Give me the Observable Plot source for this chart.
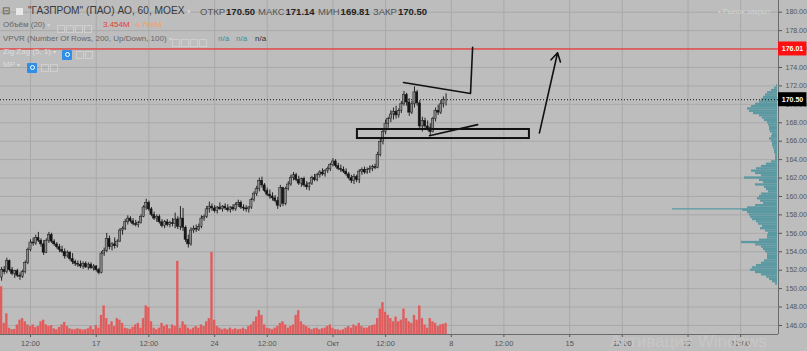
<!DOCTYPE html>
<html><head><meta charset="utf-8">
<script src="https://cdn.jsdelivr.net/npm/d3@7"></script>
<script src="https://cdn.jsdelivr.net/npm/@observablehq/plot@0.6"></script>
<style>
html,body{margin:0;padding:0;background:#bdbdbd;}
#wrap{position:relative;width:807px;height:351px;overflow:hidden;background:#bdbdbd;font-family:"Liberation Sans",Arial,sans-serif;}
#wrap svg{position:absolute;left:0;top:0;}
.t{position:absolute;white-space:nowrap;line-height:1;}
.ib{display:inline-block;width:8px;height:8px;border:1px solid #cfcfcf;margin-right:1px;vertical-align:middle;box-sizing:border-box;}
.eye{display:inline-block;width:10px;height:10px;background:#2e8ee8;border-radius:1px;vertical-align:middle;position:relative;}
.eye:after{content:"";position:absolute;left:2.5px;top:2.5px;width:3px;height:3px;border:1px solid #fff;border-radius:50%;}
.ohlc{font-size:9.5px;color:#555;top:7px;}
.ohlc b{color:#222;margin-left:1px;}
</style></head>
<body>
<div id="wrap"></div>
<script>
// ---------- data ----------
const candleOpen = [
151.2,152.0,151.8,153.0,152.0,151.6,151.9,151.4,151.3,151.8,
152.8,154.2,155.0,154.9,155.5,155.2,154.8,153.9,155.2,155.8,
155.1,154.8,154.5,154.2,154.0,153.5,153.9,153.2,152.9,152.7,
152.6,152.4,152.7,152.3,152.6,152.2,152.4,152.0,151.7,153.8,
154.1,155.4,154.5,154.8,154.6,155.1,156.3,156.5,157.2,157.6,
157.3,157.0,156.9,157.1,157.8,158.8,159.3,158.6,158.0,157.6,
157.8,157.2,156.8,157.2,156.9,157.1,157.0,157.5,156.7,157.6,
156.6,155.3,154.8,156.3,156.5,156.4,156.7,157.6,157.8,158.6,
158.9,158.7,158.4,158.8,158.6,158.9,158.7,158.5,158.8,158.6,
159.1,159.3,158.8,158.7,158.6,158.8,159.6,160.3,160.8,161.7,
161.2,160.6,160.2,160.0,159.8,159.5,159.0,160.9,159.2,160.8,
161.3,162.0,162.3,161.8,161.4,161.9,161.2,161.0,161.4,162.0,
161.8,162.3,162.6,162.4,162.8,163.0,163.4,163.8,163.3,163.0,
162.9,162.7,162.4,162.0,161.7,162.1,161.8,162.7,162.9,162.6,
162.9,163.0,163.2,163.1,164.5,165.9,167.0,167.9,168.4,168.9,
169.2,168.8,169.3,170.0,171.0,170.2,169.1,170.0,171.3,170.1,
167.6,168.2,167.6,167.4,167.0,168.4,169.3,169.1,170.0,170.5];
const candleHigh = [
152.3,152.4,153.3,153.1,152.3,152.0,152.1,151.7,152.0,153.0,
154.4,155.3,155.5,155.8,156.1,155.4,155.2,155.4,156.1,156.0,
155.3,155.0,154.8,154.6,154.3,154.1,154.0,153.8,153.1,153.0,
153.0,152.9,152.9,152.8,152.8,152.6,152.5,152.2,154.0,154.4,
156.0,155.7,155.0,155.5,155.3,156.5,156.7,157.5,157.9,157.8,
157.6,157.4,157.3,158.0,159.0,159.7,159.5,158.8,158.3,158.0,
158.0,157.5,157.4,157.5,157.3,157.6,158.2,157.8,158.9,158.7,
156.8,155.8,156.6,156.8,156.9,157.0,157.9,158.0,158.9,159.4,
159.2,159.0,158.9,159.3,159.0,159.2,159.1,158.9,159.1,159.3,
159.6,159.5,159.1,159.0,158.9,159.8,160.5,161.1,162.0,162.1,
161.4,160.9,160.7,160.4,160.1,159.9,161.2,161.0,161.0,161.6,
162.3,162.6,162.5,162.2,162.0,162.1,161.6,161.5,162.2,162.4,
162.5,162.8,163.0,162.9,163.2,163.6,164.1,164.0,163.6,163.4,
163.2,163.0,162.6,162.3,162.4,162.3,162.9,163.1,163.2,163.1,
163.3,163.4,163.5,164.8,166.2,167.3,168.3,168.6,169.3,169.6,
169.8,169.5,170.3,171.4,171.2,170.6,170.3,171.9,171.5,170.4,
168.6,168.5,168.2,167.9,168.6,169.6,169.9,170.4,170.8,171.14];
const candleLow = [
150.8,151.5,151.6,151.8,151.4,151.1,151.2,150.9,151.1,151.6,
152.6,154.0,154.6,154.7,155.0,154.5,153.6,153.8,154.9,154.9,
154.6,154.3,153.9,153.8,153.2,153.3,153.0,152.6,152.4,152.3,
152.2,152.1,152.2,152.0,152.1,151.9,151.8,151.5,151.6,153.5,
153.9,154.2,154.1,154.3,154.4,155.0,155.8,156.3,156.9,157.1,
156.8,156.7,156.6,157.0,157.7,158.5,158.4,157.8,157.4,157.2,
157.0,156.6,156.5,156.7,156.6,156.7,156.5,156.4,156.3,156.2,
155.0,154.4,154.6,156.0,156.1,156.2,156.5,157.3,157.6,158.2,
158.4,158.2,158.1,158.5,158.3,158.5,158.3,158.2,158.4,158.4,
158.8,158.6,158.4,158.3,158.2,158.6,159.4,160.0,160.5,160.9,
160.4,160.0,159.7,159.5,159.3,158.6,158.8,158.9,159.0,160.6,
161.1,161.7,161.6,161.2,161.0,161.0,160.7,160.6,161.2,161.6,
161.6,162.0,162.2,162.1,162.5,162.7,163.2,163.1,162.8,162.6,
162.5,162.2,161.8,161.4,161.3,161.5,161.4,162.3,162.4,162.4,
162.5,162.7,162.9,163.0,164.3,165.6,166.7,167.4,168.0,168.3,
168.4,168.5,169.0,169.8,169.8,168.7,168.9,169.6,169.8,167.3,
167.0,167.4,167.1,166.6,166.9,168.1,168.8,168.9,169.6,169.81];
const candleClose = [
152.0,151.8,153.0,152.0,151.6,151.9,151.4,151.3,151.8,152.8,
154.2,155.0,154.9,155.5,155.2,154.8,153.9,155.2,155.8,155.1,
154.8,154.5,154.2,154.0,153.5,153.9,153.2,152.9,152.7,152.6,
152.4,152.7,152.3,152.6,152.2,152.4,152.0,151.7,153.8,154.1,
155.4,154.5,154.8,154.6,155.1,156.3,156.5,157.2,157.6,157.3,
157.0,156.9,157.1,157.8,158.8,159.3,158.6,158.0,157.6,157.8,
157.2,156.8,157.2,156.9,157.1,157.0,157.5,156.7,157.6,156.6,
155.3,154.8,156.3,156.5,156.4,156.7,157.6,157.8,158.6,158.9,
158.7,158.4,158.8,158.6,158.9,158.7,158.5,158.8,158.6,159.1,
159.3,158.8,158.7,158.6,158.8,159.6,160.3,160.8,161.7,161.2,
160.6,160.2,160.0,159.8,159.5,159.0,160.9,159.2,160.8,161.3,
162.0,162.3,161.8,161.4,161.9,161.2,161.0,161.4,162.0,161.8,
162.3,162.6,162.4,162.8,163.0,163.4,163.8,163.3,163.0,162.9,
162.7,162.4,162.0,161.7,162.1,161.8,162.7,162.9,162.6,162.9,
163.0,163.2,163.1,164.5,165.9,167.0,167.9,168.4,168.9,169.2,
168.8,169.3,170.0,171.0,170.2,169.1,170.0,171.3,170.1,167.6,
168.2,167.6,167.4,167.0,168.4,169.3,169.1,170.0,170.5,170.5];
// hourly volume, millions
const volume = [
15.0,3.5,6.5,2.0,1.5,1.6,3.0,4.5,5.0,4.0,
3.0,2.5,3.0,2.2,2.5,4.0,4.5,3.0,2.5,2.8,
1.8,1.5,2.2,3.0,3.8,2.5,1.8,1.5,1.5,1.8,
1.6,1.4,1.5,1.8,2.5,1.5,2.8,2.0,6.0,9.0,
5.0,3.0,4.0,2.5,5.0,4.5,3.5,2.0,1.8,1.6,
2.2,3.0,3.5,2.0,5.0,9.0,8.5,4.0,2.0,1.5,
2.0,3.5,2.5,3.0,1.8,3.0,2.5,23.0,2.0,4.0,
3.0,2.0,1.5,2.0,2.5,2.0,3.0,2.5,4.0,5.0,
25.8,4.5,2.5,2.0,1.5,1.8,1.5,2.0,1.5,1.8,
1.5,1.6,2.0,1.5,2.5,3.0,4.0,5.5,7.5,6.0,
3.0,2.0,1.8,1.5,2.0,2.5,3.5,4.0,3.0,2.0,
2.5,3.0,6.0,7.5,4.0,3.0,2.5,2.0,1.5,1.8,
2.0,1.5,1.8,2.0,2.5,3.0,2.0,1.5,1.5,1.2,
1.5,2.0,2.5,2.0,3.0,2.5,3.5,2.5,2.0,2.0,
2.5,2.8,3.0,5.0,8.0,10.0,7.0,6.0,5.0,4.0,
5.5,4.0,4.5,8.0,5.0,4.0,3.5,6.0,4.5,9.0,
5.0,3.0,2.0,5.0,4.0,3.5,2.5,3.0,3.2,3.454];
// volume profile (VPVR) rows
const profilePrice = [172.00,171.75,171.50,171.25,171.00,170.75,170.50,170.25,170.00,169.75,169.50,169.25,169.00,168.75,168.50,168.25,168.00,167.75,167.50,167.25,167.00,166.75,166.50,166.25,166.00,165.75,165.50,165.25,165.00,164.75,164.50,164.25,164.00,163.75,163.50,163.25,163.00,162.75,162.50,162.25,162.00,161.75,161.50,161.25,161.00,160.75,160.50,160.25,160.00,159.75,159.50,159.25,159.00,158.75,158.50,158.25,158.00,157.75,157.50,157.25,157.00,156.75,156.50,156.25,156.00,155.75,155.50,155.25,155.00,154.75,154.50,154.25,154.00,153.75,153.50,153.25,153.00,152.75,152.50,152.25,152.00,151.75,151.50,151.25,151.00,150.75,150.50];
const profileVolume = [1,3,6,10,12,14,16,18,22,26,30,28,24,18,15,13,10,9,8,8,7,5,6,8,6,5,5,4,3,3,2,2,2,6,11,16,21,26,22,16,33,18,14,22,13,11,9,16,18,20,17,14,22,30,35,30,28,27,25,21,19,15,17,12,9,10,10,18,36,22,16,14,12,10,10,10,13,16,21,25,27,22,16,11,8,5,2];
const pocPrice = 158.65, pocVolume = 105;
// axes
const priceTicks = [146,148,150,152,154,156,158,160,162,164,166,168,170,172,174,176,178,180];
const timeTickBars = [11,36,56,81,101,126,146,171,191,216,236,261,281];
const timeTickLabels = ["12:00","17","12:00","24","12:00","Окт","12:00","8","12:00","15","12:00","22","12:00"];
// levels & drawings
const lastPrice = 170.50, alertPrice = 176.01;
const boxBars = [135.3, 200.7], boxPrices = [166.29, 167.27];
const upperLineBars = [152.8, 178.3, 179.1], upperLinePrices = [172.37, 171.18, 176.2];
const lowerLineBars = [162.7, 181.0], lowerLinePrices = [166.6, 167.8];
const arrowBars = [204.5, 211.4], arrowPrices = [166.9, 175.6];

// ---------- build ----------
const candles = candleOpen.map((o,i)=>({i,o,h:candleHigh[i],l:candleLow[i],c:candleClose[i]}));
const vols = volume.map((v,i)=>({i,v}));
const prof = profilePrice.map((p,k)=>({p,v:profileVolume[k]}));
const tickLabel = new Map(timeTickBars.map((b,k)=>[b,timeTickLabels[k]]));
const xDomain=[-0.41,295.4], yDomain=[145.02,181.27];
const font = "Liberation Sans, Arial, sans-serif";
const frame = {width:807,height:351,marginLeft:0,marginRight:29,marginTop:0,marginBottom:17,
  style:{background:"transparent",overflow:"visible",fontFamily:font}};

const base = Plot.plot({...frame, x:{domain:xDomain}, y:{domain:yDomain},
  marks:[
    Plot.ruleY(priceTicks,{stroke:"#a9a9a9",strokeWidth:1}),
    Plot.ruleX(timeTickBars,{stroke:"#a9a9a9",strokeWidth:1}),
    Plot.axisY(priceTicks,{anchor:"right",tickSize:3,tickPadding:4,fontSize:7,color:"#555",tickFormat:d=>d.toFixed(2)}),
    Plot.axisX(timeTickBars,{anchor:"bottom",tickSize:3,tickPadding:3,fontSize:7.5,color:"#555",tickFormat:d=>tickLabel.get(d)}),
    Plot.ruleX([xDomain[1]],{stroke:"#6a6a6a"}),
    Plot.ruleY([yDomain[0]],{stroke:"#6a6a6a"})
  ]});

const volPlot = Plot.plot({...frame, x:{domain:xDomain,axis:null}, y:{domain:[0,105],axis:null},
  marks:[Plot.rectY(vols,{x1:d=>d.i-0.45,x2:d=>d.i+0.45,y:"v",fill:"#e15c5c"})]});

const profPlot = Plot.plot({...frame, marginRight:30, x:{domain:[0,777],reverse:true,axis:null}, y:{domain:yDomain,axis:null},
  marks:[
    Plot.rectX(prof,{x:"v",y1:d=>d.p-0.125,y2:d=>d.p+0.125,fill:"#5a99a1"}),
    Plot.ruleY([pocPrice],{x1:0,x2:pocVolume,stroke:"#5a99a1",strokeWidth:1.2})
  ]});

const ul = upperLineBars.map((b,k)=>({x:b,y:upperLinePrices[k]}));
const ll = lowerLineBars.map((b,k)=>({x:b,y:lowerLinePrices[k]}));
const tags = [{p:alertPrice,bg:"#ff1111"},{p:lastPrice,bg:"#000000"}];
const main = Plot.plot({...frame, x:{domain:xDomain,axis:null}, y:{domain:yDomain,axis:null},
  marks:[
    Plot.ruleY([alertPrice],{stroke:"#ff1a1a",strokeWidth:1}),
    Plot.ruleY([lastPrice],{stroke:"#111",strokeWidth:1,strokeDasharray:"1,2"}),
    Plot.ruleX(candles,{x:"i",y1:"l",y2:"h",stroke:"#151515",strokeWidth:0.9}),
    Plot.rect(candles,{x1:d=>d.i-0.42,x2:d=>d.i+0.42,y1:"o",y2:"c",
      fill:d=>d.c>=d.o?"#8a8a8a":"#151515",stroke:"#151515",strokeWidth:0.5}),
    Plot.rect([{}],{x1:boxBars[0],x2:boxBars[1],y1:boxPrices[0],y2:boxPrices[1],fill:"none",stroke:"#111",strokeWidth:2}),
    Plot.line(ul,{x:"x",y:"y",stroke:"#111",strokeWidth:1.6}),
    Plot.line(ll,{x:"x",y:"y",stroke:"#111",strokeWidth:1.6}),
    Plot.arrow([{}],{x1:arrowBars[0],y1:arrowPrices[0],x2:arrowBars[1],y2:arrowPrices[1],stroke:"#111",strokeWidth:1.6,headLength:9,bend:0}),
    Plot.rect(tags,{x1:xDomain[1],x2:xDomain[1]+10.8,y1:d=>d.p-0.76,y2:d=>d.p+0.76,fill:"bg"}),
    Plot.text(tags,{x:xDomain[1],y:"p",dx:14,text:d=>d.p.toFixed(2),fill:"#fff",fontSize:7,fontWeight:"bold",fontFamily:font})
  ]});

const wrap = document.getElementById("wrap");
[base, volPlot, profPlot, main].forEach(p=>wrap.appendChild(p));

// header overlay
const hdr = document.createElement("div");
hdr.innerHTML = `
<div class="t" style="left:2px;top:6px;font-size:10px;color:#555">⊟</div>
<div class="t" style="left:16px;top:8px;width:7px;height:7px;background:#e8e8e8"></div>
<div class="t" style="left:28px;top:6px;font-size:10.2px;color:#3a3a3a">"ГАЗПРОМ" (ПАО) АО, 60, MOEX <span style="color:#d8d8d8;font-size:7px">▾</span></div>
<div class="t ohlc" style="left:200px">ОТКР<b>170.50</b></div>
<div class="t ohlc" style="left:258px">МАКС<b>171.14</b></div>
<div class="t ohlc" style="left:318px">МИН<b>169.81</b></div>
<div class="t ohlc" style="left:373px">ЗАКР<b>170.50</b></div>
<div class="t" style="left:3px;top:21px;font-size:8px;color:#666">Объём (20) <span style="color:#d6d6d6;font-size:6px">▾</span></div>
<div class="t" style="left:57px;top:20px"><span class="ib"></span><span class="ib"></span><span class="ib"></span><span class="ib"></span></div>
<div class="t" style="left:103px;top:21px;font-size:8px;color:#e53935">3.454M</div>
<div class="t" style="left:135px;top:21px;font-size:8px;color:#f5a15a">4.798M</div>
<div class="t" style="left:3px;top:35px;font-size:8px;color:#666">VPVR (Number Of Rows, 200, Up/Down, 100) <span style="color:#d6d6d6;font-size:6px">▾</span></div>
<div class="t" style="left:172px;top:34px"><span class="ib"></span><span class="ib"></span><span class="ib"></span><span class="ib"></span></div>
<div class="t" style="left:218px;top:35px;font-size:8px;color:#3f8d98">n/a</div>
<div class="t" style="left:236px;top:35px;font-size:8px;color:#3f8d98">n/a</div>
<div class="t" style="left:255px;top:35px;font-size:8px;color:#333">n/a</div>
<div class="t" style="left:3px;top:48px;font-size:8px;color:#dcdcdc">Zig Zag (5, 1) <span style="font-size:6px">▾</span></div>
<div class="t" style="left:62px;top:46px"><span class="eye"></span> <span class="ib"></span><span class="ib"></span></div>
<div class="t" style="left:3px;top:61px;font-size:8px;color:#dcdcdc">MP <span style="font-size:6px">▾</span></div>
<div class="t" style="left:27px;top:59px"><span class="eye"></span> <span class="ib"></span><span class="ib"></span></div>
<div class="t" style="left:718px;top:8px;font-size:7.5px;color:#d2d2d2">• Рынок закрыт</div>
<div class="t" style="left:610px;top:333px;font-size:17px;color:#c9c9c9;opacity:0.85">Активация Windows</div>
`;
wrap.appendChild(hdr);
</script>
</body></html>
